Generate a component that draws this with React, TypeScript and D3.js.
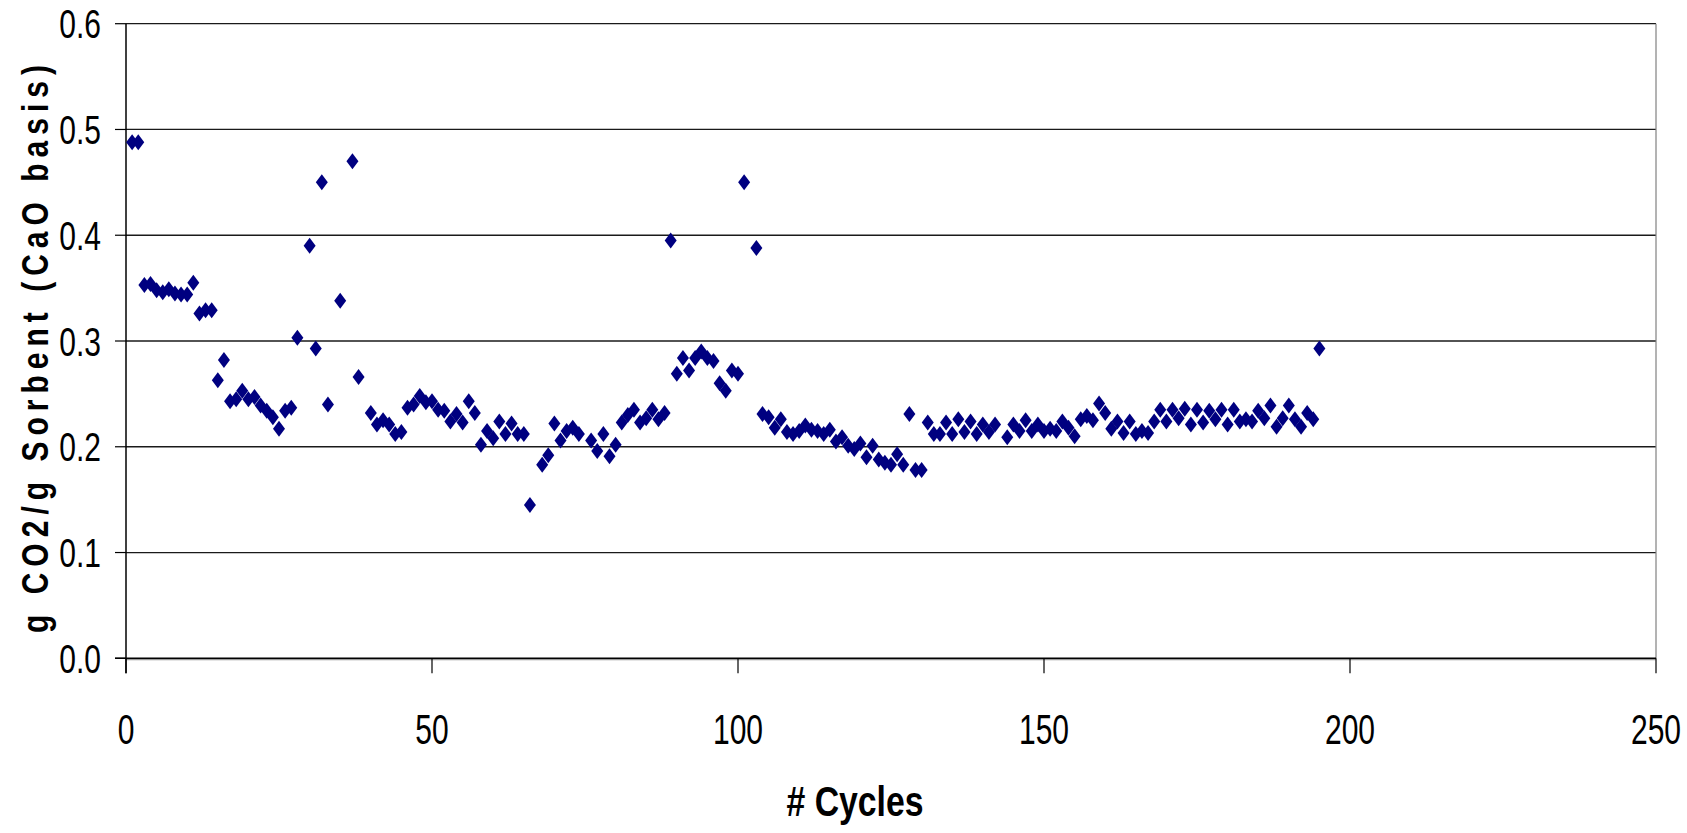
import React from "react";
import * as d3 from "d3";

const cycles = [1,2,3,4,5,6,7,8,9,10,11,12,13,14,15,16,17,18,19,20,21,22,23,24,25,26,27,28,30,31,32,33,35,37,38,40,41,42,43,44,45,46,47,48,49,50,51,52,53,54,55,56,57,58,59,60,61,62,63,64,65,66,68,69,70,71,72,73,74,76,77,78,79,80,81,82,83,84,85,86,87,88,89,90,91,92,93,94,95,96,97,98,99,100,101,103,104,105,106,107,108,109,110,111,112,113,114,115,116,117,118,119,120,121,122,123,124,125,126,127,128,129,130,131,132,133,134,135,136,137,138,139,140,141,142,144,145,146,147,148,149,150,151,152,153,154,155,156,157,158,159,160,161,162,163,164,165,166,167,168,169,170,171,172,173,174,175,176,177,178,179,180,181,182,183,184,185,186,187,188,189,190,191,192,193,194,195];

const capacity = [0.488,0.488,0.353,0.354,0.348,0.346,0.349,0.345,0.344,0.344,0.355,0.326,0.329,0.329,0.263,0.282,0.243,0.245,0.253,0.245,0.247,0.239,0.234,0.228,0.217,0.234,0.237,0.303,0.390,0.293,0.450,0.240,0.338,0.470,0.266,0.232,0.221,0.225,0.221,0.212,0.214,0.237,0.240,0.248,0.242,0.243,0.235,0.234,0.224,0.231,0.223,0.243,0.232,0.202,0.215,0.208,0.224,0.212,0.222,0.212,0.212,0.145,0.183,0.192,0.222,0.206,0.215,0.218,0.212,0.206,0.196,0.212,0.191,0.202,0.223,0.230,0.235,0.223,0.227,0.235,0.226,0.232,0.395,0.269,0.284,0.272,0.284,0.290,0.284,0.281,0.260,0.253,0.272,0.269,0.450,0.388,0.231,0.228,0.218,0.226,0.214,0.212,0.215,0.220,0.216,0.215,0.212,0.216,0.205,0.209,0.201,0.198,0.203,0.190,0.201,0.188,0.185,0.183,0.193,0.183,0.231,0.178,0.178,0.223,0.212,0.212,0.223,0.212,0.226,0.214,0.224,0.212,0.221,0.214,0.221,0.209,0.221,0.215,0.225,0.215,0.221,0.215,0.217,0.215,0.224,0.218,0.210,0.226,0.229,0.225,0.241,0.232,0.217,0.224,0.213,0.224,0.212,0.215,0.213,0.224,0.235,0.224,0.235,0.227,0.236,0.221,0.235,0.223,0.234,0.226,0.235,0.221,0.235,0.224,0.226,0.224,0.234,0.227,0.239,0.219,0.227,0.239,0.226,0.219,0.232,0.226,0.293];

const xTicks = [0, 50, 100, 150, 200, 250];
const yTicks = [0, 0.1, 0.2, 0.3, 0.4, 0.5, 0.6];

const W = 1687;
const H = 833;
const left = 126;
const right = 1656;
const top = 23.7;
const bottom = 658.3;

export default function App() {
  const x = d3.scaleLinear().domain([0, 250]).range([left, right]);
  const y = d3.scaleLinear().domain([0, 0.6]).range([bottom, top]);
  const diamond = (cx: number, cy: number) =>
    `M${cx},${cy - 8}L${cx + 6},${cy}L${cx},${cy + 8}L${cx - 6},${cy}Z`;
  const font = "'Liberation Sans', Arial, sans-serif";
  const narrow = "'Liberation Sans Narrow', 'Arial Narrow', 'Liberation Sans', Arial, sans-serif";
  const sy = 1.35;
  return (
    <svg width={W} height={H} style={{ position: "absolute", left: 0, top: 0, background: "#fff" }}>
      <rect x={0} y={0} width={W} height={H} fill="#fff" />
      {/* grid lines */}
      {yTicks.filter((t) => t > 0).map((t) => (
        <line key={"g" + t} x1={left} x2={right} y1={y(t)} y2={y(t)} stroke="#1a1a1a" strokeWidth={1.3} />
      ))}
      {/* right border */}
      <line x1={right} x2={right} y1={top} y2={bottom} stroke="#808080" strokeWidth={1.2} />
      {/* x axis */}
      <line x1={left} x2={right} y1={bottom + 1} y2={bottom + 1} stroke="#999" strokeWidth={2} />
      <line x1={left - 11} x2={right} y1={bottom} y2={bottom} stroke="#000" strokeWidth={1.5} />
      {/* y axis */}
      <line x1={left} x2={left} y1={top} y2={bottom + 15} stroke="#000" strokeWidth={1.5} />
      {yTicks.map((t) => (
        <g key={"yt" + t}>
          <line x1={left - 11} x2={left} y1={y(t)} y2={y(t)} stroke="#000" strokeWidth={1.2} />
          <text
            transform={`translate(101,${y(t) + 14.5}) scale(1,${sy})`}
            textAnchor="end"
            fontFamily={font}
            fontSize={30}
            fill="#000"
          >
            {t.toFixed(1)}
          </text>
        </g>
      ))}
      {xTicks.map((t) => (
        <g key={"xt" + t}>
          <line x1={x(t)} x2={x(t)} y1={bottom} y2={bottom + 15} stroke="#000" strokeWidth={1.2} />
          <text
            transform={`translate(${x(t)},744) scale(1,1.42)`}
            textAnchor="middle"
            fontFamily={font}
            fontSize={30}
            fill="#000"
          >
            {t}
          </text>
        </g>
      ))}
      {/* points */}
      {cycles.map((c, i) => (
        <path key={"p" + i} d={diamond(x(c), y(capacity[i]))} fill="#000080" />
      ))}
      {/* x label */}
      <text
        transform={`translate(855,816) scale(1,1.35)`}
        textAnchor="middle"
        fontFamily={font}
        fontWeight="bold"
        fontSize={32}
        textLength={137}
        lengthAdjust="spacingAndGlyphs"
        fill="#000"
      >
        # Cycles
      </text>
      {/* y label */}
      <text
        transform={`translate(48,349) rotate(-90) scale(1,1.2)`}
        textAnchor="middle"
        fontFamily={narrow}
        fontWeight="bold"
        fontSize={30}
        textLength={568}
        lengthAdjust="spacing"
        fill="#000"
      >
        g CO2/g Sorbent (CaO basis)
      </text>
    </svg>
  );
}
